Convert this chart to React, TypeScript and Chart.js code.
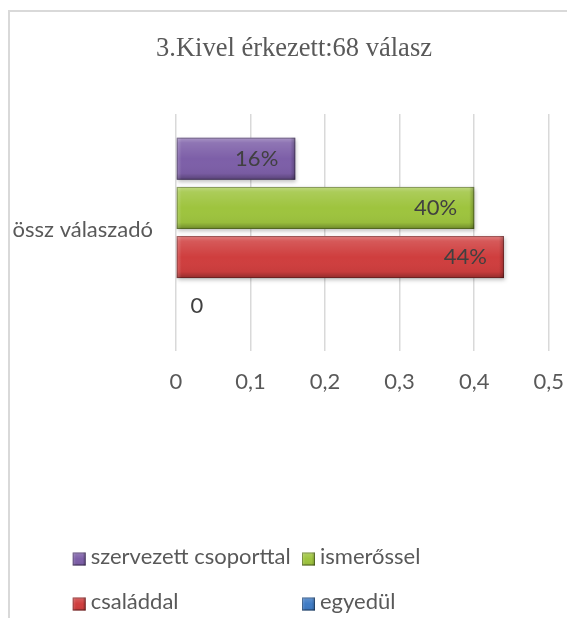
import React, { useEffect, useRef } from 'react';
import { Chart, registerables } from 'chart.js';

Chart.register(...registerables);

// ---- data ----
const TITLE = '3.Kivel érkezett:68 válasz';
const categories = ['össz válaszadó'];
const seriesNames = ['szervezett csoporttal', 'ismerőssel', 'családdal', 'egyedül'];
const szervezettCsoporttal = [0.16];
const ismerossel = [0.4];
const csaladdal = [0.44];
const egyedul = [0];
const seriesColors = ['#7d5fa8', '#9ec43e', '#cf3e3e', '#3f7bc4'];
const xTickLabels = ['0', '0,1', '0,2', '0,3', '0,4', '0,5'];
const X_MIN = 0;
const X_MAX = 0.5;
const X_STEP = 0.1;
// legend grid: rows of dataset indices
const legendRows = [
  [0, 1],
  [2, 3],
];

// ---- styles ----
const SANS = 'Lato, "Open Sans", sans-serif';
const FS = 22;
const TEXT = '#595959';
const LABEL = '#404040';
const GRID = '#d9d9d9';

function bevel(ctx: CanvasRenderingContext2D, left: number, top: number, w: number, h: number) {
  const g = ctx.createLinearGradient(0, top, 0, top + h);
  g.addColorStop(0, 'rgba(255,255,255,0.35)');
  g.addColorStop(0.12, 'rgba(255,255,255,0.14)');
  g.addColorStop(0.5, 'rgba(255,255,255,0)');
  g.addColorStop(0.85, 'rgba(0,0,0,0.04)');
  g.addColorStop(1, 'rgba(0,0,0,0.3)');
  ctx.fillStyle = g;
  ctx.fillRect(left, top, w, h);
  if (w > 10) {
    const e = Math.min(5, w / 4);
    const gr = ctx.createLinearGradient(left + w - e, 0, left + w, 0);
    gr.addColorStop(0, 'rgba(0,0,0,0)');
    gr.addColorStop(1, 'rgba(0,0,0,0.25)');
    ctx.fillStyle = gr;
    ctx.fillRect(left + w - e, top, e, h);
    const gl = ctx.createLinearGradient(left, 0, left + e, 0);
    gl.addColorStop(0, 'rgba(255,255,255,0.2)');
    gl.addColorStop(1, 'rgba(255,255,255,0)');
    ctx.fillStyle = gl;
    ctx.fillRect(left, top, e, h);
  }
  ctx.strokeStyle = 'rgba(0,0,0,0.3)';
  ctx.lineWidth = 1;
  ctx.strokeRect(left + 0.5, top + 0.5, w - 1, h - 1);
}

const decorPlugin = {
  id: 'decor',
  beforeDatasetsDraw(chart: any) {
    const ctx = chart.ctx;
    ctx.save();
    ctx.shadowColor = 'rgba(0,0,0,0.25)';
    ctx.shadowBlur = 4;
    ctx.shadowOffsetY = 2;
    ctx.shadowOffsetX = 1;
  },
  afterDatasetsDraw(chart: any) {
    const ctx = chart.ctx;
    ctx.restore();
    ctx.save();
    chart.getSortedVisibleDatasetMetas().forEach((meta: any) => {
      const ds = chart.data.datasets[meta.index];
      meta.data.forEach((el: any, i: number) => {
        const p = el.getProps(['x', 'y', 'base', 'height'], true);
        const left = Math.min(p.base, p.x);
        const w = Math.abs(p.x - p.base);
        const top = p.y - p.height / 2;
        if (w >= 1) bevel(ctx, left, top, w, p.height);
        const v = ds.data[i] as number;
        ctx.font = `${FS}px ${SANS}`;
        ctx.fillStyle = LABEL;
        ctx.textBaseline = 'middle';
        if (v > 0) {
          ctx.textAlign = 'right';
          ctx.fillText(Math.round(v * 100) + '%', p.x - 17, p.y);
        } else {
          ctx.textAlign = 'center';
          ctx.fillText(String(v), p.base + 21, p.y);
        }
      });
    });
    ctx.restore();
  },
  afterDraw(chart: any) {
    const ctx = chart.ctx;
    ctx.save();
    // title
    ctx.font = `26.5px "Liberation Serif", "Times New Roman", serif`;
    ctx.fillStyle = TEXT;
    ctx.textAlign = 'center';
    ctx.textBaseline = 'middle';
    ctx.fillText(TITLE, 284, 36.6);
    // legend
    const colX = [62.7, 292];
    const rowY = [547, 592];
    ctx.font = `${FS}px ${SANS}`;
    ctx.textAlign = 'left';
    legendRows.forEach((row, r) => {
      row.forEach((di, c) => {
        const ds = chart.data.datasets[di];
        const bx = colX[c];
        const by = rowY[r] - 6.5;
        ctx.fillStyle = ds.backgroundColor;
        ctx.fillRect(bx, by, 13, 13);
        bevel(ctx, bx, by, 13, 13);
        ctx.fillStyle = TEXT;
        ctx.textBaseline = 'middle';
        ctx.fillText(ds.label, bx + 18, rowY[r] - 2);
      });
    });
    ctx.restore();
  },
};

export default function App() {
  const ref = useRef<HTMLCanvasElement | null>(null);
  useEffect(() => {
    if (!ref.current) return;
    const values = [szervezettCsoporttal, ismerossel, csaladdal, egyedul];
    const chart = new Chart(ref.current, {
      type: 'bar',
      data: {
        labels: categories,
        datasets: seriesNames.map((name, i) => ({
          label: name,
          data: values[i],
          backgroundColor: seriesColors[i],
          borderWidth: 0,
          categoryPercentage: 0.83,
          barPercentage: 0.855,
        })),
      },
      options: {
        indexAxis: 'y',
        responsive: false,
        animation: false,
        events: [],
        layout: { padding: { top: 102, right: 26.3, bottom: 207, left: 0 } },
        plugins: {
          legend: { display: false },
          title: { display: false },
          tooltip: { enabled: false },
        },
        scales: {
          x: {
            min: X_MIN,
            max: X_MAX,
            ticks: {
              stepSize: X_STEP,
              padding: 18,
              color: TEXT,
              font: { family: SANS, size: FS },
              callback: (_v: any, idx: number) => xTickLabels[idx],
            },
            grid: { color: GRID, lineWidth: 1.5, drawTicks: false },
            border: { display: false },
            afterFit: (s: any) => {
              s.height = 60;
              s.paddingLeft = 0;
              s.paddingRight = 0;
            },
          },
          y: {
            ticks: {
              padding: 23,
              color: TEXT,
              font: { family: SANS, size: FS },
              labelOffset: -3,
            },
            grid: { display: false, drawTicks: false },
            border: { display: false },
            afterFit: (s: any) => {
              s.width = 166;
              s.paddingTop = 0;
              s.paddingBottom = 0;
            },
          },
        },
      },
      plugins: [decorPlugin],
    } as any);
    return () => chart.destroy();
  }, []);

  return (
    <div
      style={{
        position: 'relative',
        top: 2,
        width: 567,
        height: 610,
        boxSizing: 'border-box',
        borderTop: `2px solid ${GRID}`,
        borderLeft: `2px solid ${GRID}`,
        background: '#fff',
      }}
    >
      <canvas ref={ref} width={565} height={606} style={{ display: 'block', width: 565, height: 606 }} />
    </div>
  );
}
